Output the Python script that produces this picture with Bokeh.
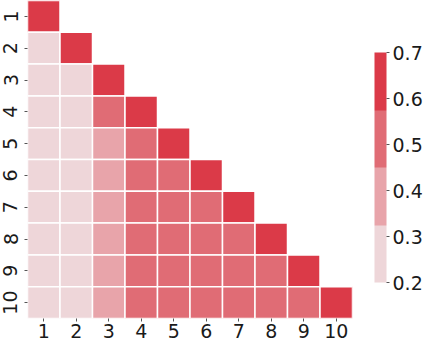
from bokeh.plotting import figure
from bokeh.models import ColumnDataSource, LinearColorMapper, ColorBar, FixedTicker, Range1d
from bokeh.embed import file_html
from bokeh.resources import INLINE

labels = [str(i) for i in range(1, 11)]
# lower triangle (row i holds columns 1..i)
row_values = [
    [1.00],
    [0.26, 1.00],
    [0.25, 0.27, 1.00],
    [0.25, 0.27, 0.50, 1.00],
    [0.24, 0.26, 0.40, 0.52, 1.00],
    [0.24, 0.26, 0.40, 0.51, 0.52, 1.00],
    [0.24, 0.26, 0.40, 0.51, 0.52, 0.52, 1.00],
    [0.24, 0.26, 0.40, 0.51, 0.52, 0.52, 0.53, 1.00],
    [0.24, 0.26, 0.40, 0.51, 0.52, 0.52, 0.53, 0.53, 1.00],
    [0.24, 0.26, 0.40, 0.51, 0.52, 0.52, 0.53, 0.53, 0.54, 1.00],
]
palette = ["#eed6d9", "#e8a4aa", "#e06c75", "#db3a48"]
cbar_ticks = [0.2, 0.3, 0.4, 0.5, 0.6, 0.7]

xs, ys, vs = [], [], []
for r, row in enumerate(row_values):
    for c, v in enumerate(row):
        xs.append(c + 1)
        ys.append(r + 1)
        vs.append(v)
src = ColumnDataSource(dict(x=xs, y=ys, v=vs))

mapper = LinearColorMapper(palette=palette, low=0.2, high=0.7)

p = figure(frame_width=325, frame_height=318,
           x_range=Range1d(0.5, 10.5), y_range=Range1d(10.5, 0.5),
           output_backend="svg", toolbar_location=None,
           min_border_left=0, min_border_top=0, min_border_bottom=0, min_border_right=0)
p.rect(x="x", y="y", width=1, height=1, source=src,
       fill_color={"field": "v", "transform": mapper},
       line_color="white", line_width=1.5)

p.outline_line_color = None
p.grid.visible = False
for ax in (p.xaxis[0], p.yaxis[0]):
    ax.ticker = FixedTicker(ticks=list(range(1, 11)))
    ax.major_label_overrides = {i + 1: labels[i] for i in range(10)}
    ax.axis_line_color = None
    ax.major_tick_in = 0
    ax.major_tick_out = 3
    ax.major_tick_line_color = "#555555"
    ax.minor_tick_line_color = None
    ax.major_label_text_font = "DejaVu Sans"
    ax.major_label_text_font_size = "19px"
    ax.major_label_text_color = "#1a1a1a"
    ax.major_label_standoff = 2
p.yaxis[0].major_label_orientation = "vertical"
p.yaxis[0].major_label_standoff = 7

cb = ColorBar(color_mapper=mapper, ticker=FixedTicker(ticks=cbar_ticks),
              width=12, height=230, location=(22, 36), margin=0, padding=0,
              bar_line_color=None, border_line_color=None, background_fill_color=None,
              major_tick_in=0, major_tick_out=3, major_tick_line_color="#555555",
              minor_tick_line_color=None,
              major_label_text_font="DejaVu Sans", major_label_text_font_size="19px",
              major_label_text_color="#1a1a1a", label_standoff=3)
p.add_layout(cb, "right")

open("out.html", "w").write(file_html(p, INLINE))
